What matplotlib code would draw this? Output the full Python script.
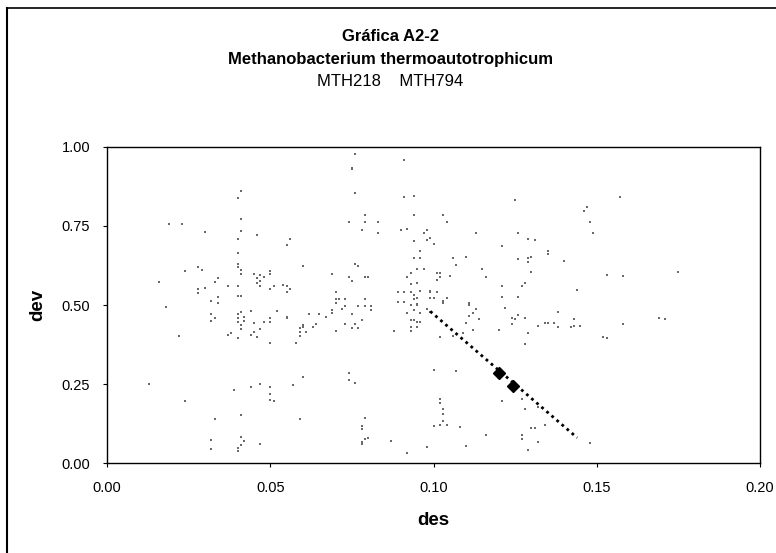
import matplotlib
matplotlib.use("Agg")
import matplotlib.pyplot as plt

plt.rcParams['font.family'] = ['Liberation Sans', 'DejaVu Sans']

# gene pairs: des (x) vs dev (y)
des = [0.041, 0.040, 0.041, 0.019, 0.023, 0.030, 0.041, 0.046, 0.040, 0.056,
       0.055, 0.040, 0.040, 0.040, 0.028, 0.024, 0.029, 0.041, 0.041, 0.060,
       0.045, 0.047, 0.050, 0.050, 0.048, 0.046, 0.047, 0.046, 0.047, 0.051,
       0.054, 0.055, 0.056, 0.055, 0.050, 0.034, 0.033, 0.037, 0.040, 0.016,
       0.028, 0.030, 0.028, 0.034, 0.040, 0.041, 0.032, 0.034, 0.018,
       0.032, 0.033, 0.032, 0.040, 0.041, 0.044, 0.040, 0.042, 0.040, 0.042,
       0.041, 0.045, 0.048, 0.050, 0.050, 0.052, 0.055, 0.055, 0.062, 0.065,
       0.060, 0.060, 0.059, 0.064, 0.063, 0.059, 0.061, 0.059, 0.047, 0.041,
       0.045, 0.046, 0.044, 0.038, 0.037, 0.040, 0.022, 0.050, 0.058, 0.060,
       0.057, 0.013, 0.024, 0.039, 0.044, 0.047, 0.050, 0.050, 0.050, 0.051,
       0.033, 0.041, 0.059, 0.032, 0.032, 0.041, 0.042, 0.041, 0.040, 0.040,
       0.047,
       0.076, 0.091, 0.075, 0.075, 0.076, 0.091, 0.094, 0.125, 0.079, 0.074,
       0.079, 0.083, 0.094, 0.103, 0.104, 0.078, 0.083, 0.090, 0.092, 0.098,
       0.097, 0.099, 0.098, 0.094, 0.100, 0.113, 0.126, 0.129, 0.131, 0.121,
       0.096, 0.094, 0.096, 0.106, 0.110, 0.126, 0.129, 0.130, 0.129, 0.130,
       0.107, 0.115, 0.116, 0.076, 0.077, 0.069, 0.074, 0.075, 0.079, 0.080,
       0.095, 0.097, 0.093, 0.092, 0.101, 0.102, 0.102, 0.105, 0.101, 0.095,
       0.093, 0.121, 0.127, 0.128, 0.070, 0.070, 0.071, 0.073, 0.070, 0.079,
       0.089, 0.091, 0.093, 0.096, 0.094, 0.095, 0.094, 0.089, 0.091, 0.099,
       0.099, 0.101, 0.099, 0.100, 0.104, 0.103, 0.111, 0.121, 0.126, 0.073,
       0.077, 0.079, 0.081, 0.093, 0.095, 0.095, 0.098, 0.111, 0.122,
       0.070, 0.069, 0.069, 0.067, 0.072, 0.081, 0.075, 0.073, 0.076, 0.075,
       0.077, 0.078, 0.070, 0.088, 0.092, 0.094, 0.096, 0.093, 0.094, 0.095,
       0.093, 0.095, 0.096, 0.093, 0.098, 0.099, 0.103, 0.113, 0.112, 0.111,
       0.114, 0.110, 0.109, 0.112, 0.102, 0.106, 0.122, 0.120, 0.124, 0.125,
       0.124, 0.126, 0.128, 0.129, 0.132, 0.128, 0.100, 0.107, 0.074, 0.074,
       0.076, 0.121, 0.127, 0.128, 0.132, 0.102, 0.102, 0.103, 0.103, 0.103,
       0.102, 0.104, 0.100, 0.108, 0.079, 0.078, 0.078, 0.078, 0.078, 0.079,
       0.080, 0.087, 0.098, 0.092, 0.110, 0.116, 0.127, 0.127, 0.130, 0.131,
       0.132, 0.129,
       0.157, 0.147, 0.146, 0.148, 0.149, 0.135, 0.135, 0.140, 0.153, 0.158,
       0.175, 0.144, 0.134, 0.135, 0.137, 0.138, 0.138, 0.142, 0.143, 0.143,
       0.145, 0.152, 0.153, 0.158, 0.169, 0.171, 0.134, 0.148]
dev = [0.862, 0.840, 0.771, 0.757, 0.756, 0.732, 0.735, 0.722, 0.710, 0.709,
       0.689, 0.665, 0.630, 0.619, 0.620, 0.609, 0.610, 0.610, 0.598, 0.623,
       0.599, 0.595, 0.609, 0.598, 0.589, 0.586, 0.575, 0.571, 0.561, 0.561,
       0.564, 0.561, 0.551, 0.542, 0.552, 0.586, 0.574, 0.560, 0.561, 0.573,
       0.550, 0.554, 0.537, 0.526, 0.528, 0.529, 0.514, 0.507, 0.493,
       0.472, 0.460, 0.450, 0.472, 0.479, 0.482, 0.460, 0.463, 0.446, 0.448,
       0.438, 0.442, 0.447, 0.460, 0.447, 0.482, 0.460, 0.461, 0.472, 0.472,
       0.437, 0.429, 0.428, 0.440, 0.429, 0.414, 0.414, 0.403, 0.424, 0.423,
       0.415, 0.398, 0.405, 0.412, 0.405, 0.396, 0.402, 0.381, 0.381, 0.272,
       0.246, 0.251, 0.196, 0.230, 0.240, 0.251, 0.240, 0.219, 0.200, 0.197,
       0.140, 0.152, 0.139, 0.072, 0.045, 0.081, 0.070, 0.058, 0.046, 0.039,
       0.060,
       0.978, 0.959, 0.931, 0.934, 0.854, 0.842, 0.844, 0.831, 0.785, 0.763,
       0.763, 0.763, 0.784, 0.785, 0.763, 0.737, 0.729, 0.736, 0.740, 0.737,
       0.728, 0.713, 0.705, 0.703, 0.692, 0.728, 0.728, 0.709, 0.707, 0.686,
       0.671, 0.649, 0.649, 0.649, 0.651, 0.646, 0.650, 0.651, 0.637, 0.605,
       0.627, 0.615, 0.589, 0.631, 0.623, 0.598, 0.589, 0.577, 0.588, 0.590,
       0.614, 0.614, 0.600, 0.589, 0.600, 0.602, 0.589, 0.592, 0.579, 0.569,
       0.566, 0.559, 0.560, 0.571, 0.542, 0.519, 0.519, 0.520, 0.506, 0.519,
       0.542, 0.541, 0.541, 0.545, 0.533, 0.522, 0.518, 0.509, 0.510, 0.545,
       0.540, 0.540, 0.523, 0.522, 0.523, 0.512, 0.506, 0.526, 0.526, 0.498,
       0.496, 0.497, 0.498, 0.501, 0.501, 0.504, 0.488, 0.500, 0.490,
       0.507, 0.484, 0.476, 0.463, 0.486, 0.484, 0.472, 0.440, 0.440, 0.427,
       0.427, 0.453, 0.417, 0.417, 0.474, 0.484, 0.474, 0.453, 0.453, 0.446,
       0.431, 0.431, 0.446, 0.419, 0.486, 0.477, 0.507, 0.486, 0.474, 0.466,
       0.457, 0.442, 0.410, 0.421, 0.400, 0.403, 0.490, 0.421, 0.458, 0.457,
       0.440, 0.467, 0.458, 0.410, 0.434, 0.377, 0.294, 0.292, 0.284, 0.263,
       0.254, 0.197, 0.203, 0.170, 0.178, 0.202, 0.191, 0.172, 0.154, 0.134,
       0.120, 0.120, 0.118, 0.113, 0.141, 0.117, 0.107, 0.067, 0.060, 0.075,
       0.078, 0.071, 0.052, 0.031, 0.054, 0.089, 0.089, 0.077, 0.110, 0.110,
       0.066, 0.041,
       0.841, 0.810, 0.798, 0.763, 0.729, 0.672, 0.662, 0.638, 0.596, 0.593,
       0.605, 0.547, 0.444, 0.444, 0.444, 0.477, 0.431, 0.431, 0.456, 0.434,
       0.434, 0.400, 0.395, 0.440, 0.460, 0.457, 0.120, 0.064]

# MTH218 / MTH794 pair
trend_des = [0.099, 0.144]
trend_dev = [0.480, 0.080]
pair_des = [0.1201, 0.1244]
pair_dev = [0.284, 0.245]

fig = plt.figure(figsize=(7.76, 5.53), dpi=100)
ax = fig.add_axes([0.1379, 0.1627, 0.8415, 0.5715])

ax.scatter(des, dev, s=2.2, color='#6a6a6a', marker='s', linewidths=0)
ax.plot(trend_des, trend_dev, color='black', linestyle=(0, (1, 1.4)),
        linewidth=2.0)
ax.plot(pair_des, pair_dev, linestyle='none', marker='D', markersize=6,
        color='black')

ax.set_xlim(0, 0.20)
ax.set_ylim(0, 1.00)
ax.set_xticks([0.00, 0.05, 0.10, 0.15, 0.20])
ax.set_yticks([0.00, 0.25, 0.50, 0.75, 1.00])
ax.xaxis.set_major_formatter(matplotlib.ticker.FormatStrFormatter('%.2f'))
ax.yaxis.set_major_formatter(matplotlib.ticker.FormatStrFormatter('%.2f'))
ax.tick_params(direction='out', length=3, width=0.8, labelsize=10.5, pad=9)
ax.tick_params(axis='x', pad=10)
for s in ax.spines.values():
    s.set_linewidth(1.0)
    s.set_color('black')

ax.set_xlabel('des', fontsize=13.5, fontweight='bold', labelpad=12)
ax.set_ylabel('dev', fontsize=13.5, fontweight='bold', labelpad=11)

fig.text(0.503, 0.934, 'Gráfica A2-2', ha='center', va='center',
         fontsize=12, fontweight='bold')
fig.text(0.503, 0.892, 'Methanobacterium thermoautotrophicum', ha='center',
         va='center', fontsize=12, fontweight='bold')
fig.text(0.503, 0.852, 'MTH218    MTH794', ha='center', va='center',
         fontsize=12)

# outer chart frame (top and left edges)
fig.add_artist(plt.Line2D([0.009, 1.0], [0.986, 0.986], color='black',
                          linewidth=1.2, transform=fig.transFigure))
fig.add_artist(plt.Line2D([0.009, 0.009], [0.0, 0.986], color='black',
                          linewidth=1.5, transform=fig.transFigure))

fig.savefig('out.png', dpi=100, facecolor='white')
